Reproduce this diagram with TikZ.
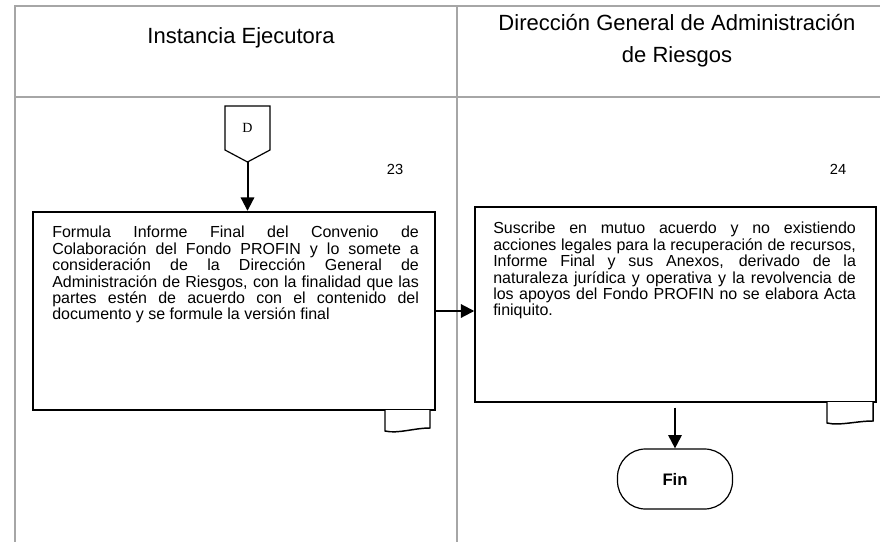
\documentclass[tikz,border=0pt]{standalone}
\usepackage{fontspec}
\setmainfont{Liberation Sans}
\newfontfamily\serifD{Liberation Serif}
\usetikzlibrary{arrows.meta,positioning}
\hyphenpenalty=10000
\exhyphenpenalty=10000

\begin{document}
\begin{tikzpicture}[x=0.75pt,y=-0.75pt,
  lane/.style={draw=black!35,line width=1pt},
  head/.style={align=center,font=\fontsize{16.5}{24}\selectfont},
  proc/.style={draw,inner sep=0pt},
  txt/.style={anchor=north west,inner sep=0pt,text width=272pt,align=justify,font=\fontsize{12}{12.3}\selectfont},
  num/.style={font=\fontsize{11}{13}\selectfont},
  flow/.style={-{Triangle[length=10pt,width=10pt]},line width=1.5pt},
  tabbox/.style={draw,line width=1.1pt,fill=white}]
  \useasboundingbox (0,0) rectangle (880,542);

  \draw[lane] (880,6) -- (15,6) -- (15,542);
  \draw[lane] (15,97) -- (880,97);
  \draw[lane] (457,6) -- (457,542);

  \node[head] (ie) at (241,38) {Instancia Ejecutora};
  \node[head] (dgar) at (677,41) {Dirección General de Administración\\de Riesgos};

  \draw[line width=0.9pt] (225,106) -- (270,106) -- (270,150) -- (247.5,162) -- (225,150) -- cycle;
  \node[font=\serifD\fontsize{10.5}{12}\selectfont] (d) at (247.5,128) {D};
  \coordinate (dtip) at (247.5,162);

  \node[proc,line width=1.8pt,minimum width=301.5pt,minimum height=148.5pt] (p23) at (234,311) {};
  \node[proc,line width=1.1pt,minimum width=300.75pt,minimum height=146.25pt] (p24) at (675.5,304.5) {};

  \node[txt,text width=275pt] (t23) at (52,226) {Formula Informe Final del Convenio de\linebreak Colaboración del Fondo PROFIN y lo somete a\linebreak consideración de la Dirección General de\linebreak Administración de Riesgos, con la finalidad que las\linebreak partes estén de acuerdo con el contenido del\linebreak documento y se formule la versión final};
  \node[txt] (t24) at (493,222) {Suscribe en mutuo acuerdo y no existiendo acciones legales para la recuperación de recursos, Informe Final y sus Anexos, derivado de la naturaleza jurídica y operativa y la revolvencia de los apoyos del Fondo PROFIN no se elabora Acta finiquito.};

  \node[num] (n23) at (395,169) {23};
  \node[num] (n24) at (838,169) {24};

  \draw[tabbox] (385,410) -- (385,431) .. controls (398,434) and (414,428) .. (430,428) -- (430,410);
  \draw[tabbox] (827,402) -- (827,423) .. controls (840,426) and (856,421) .. (873,421) -- (873,402);

  \node[draw,line width=0.9pt,rounded corners=21pt,minimum width=86.25pt,minimum height=45pt,font=\bfseries\fontsize{12.5}{14}\selectfont] (fin) at (675,479) {Fin};

  \draw[flow] (dtip) -- (dtip |- p23.north);
  \draw[flow] (p23.east) -- (p23.east -| p24.west);
  \draw[flow,shorten <=3.75pt] (p24.south -| fin.north) -- (fin.north);
\end{tikzpicture}
\end{document}
